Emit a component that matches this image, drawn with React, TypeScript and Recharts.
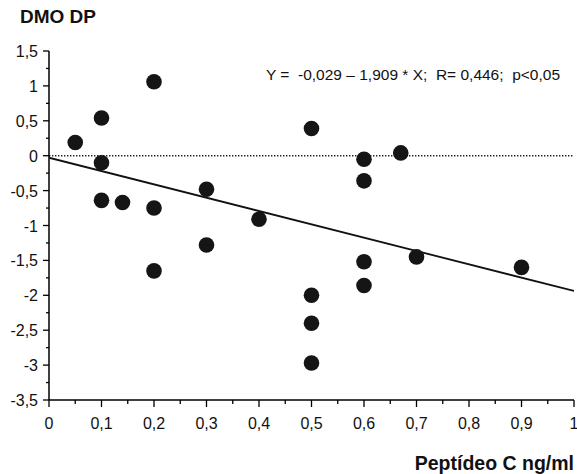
import React from "react";
import {
  ScatterChart,
  Scatter,
  XAxis,
  YAxis,
  ReferenceLine,
} from "recharts";

// Peptídeo C (ng/ml) values
const peptideoC = [
  0.05, 0.1, 0.1, 0.1, 0.14, 0.2, 0.2, 0.2, 0.3, 0.3, 0.4, 0.5, 0.5, 0.5, 0.5,
  0.6, 0.6, 0.6, 0.6, 0.67, 0.7, 0.9,
];
// DMO DP values
const dmoDP = [
  0.19, 0.54, -0.1, -0.64, -0.67, 1.06, -0.75, -1.65, -0.48, -1.28, -0.91,
  0.39, -2.0, -2.4, -2.97, -0.05, -0.36, -1.52, -1.86, 0.04, -1.45, -1.6,
];

// regression from the equation Y = -0,029 - 1,909 * X
const intercept = -0.029;
const slope = -1.909;
const regX = [0, 1];

const xTicks = [
  0, 0.05, 0.1, 0.15, 0.2, 0.25, 0.3, 0.35, 0.4, 0.45, 0.5, 0.55, 0.6, 0.65,
  0.7, 0.75, 0.8, 0.85, 0.9, 0.95, 1,
];
const yTicks = [
  -3.5, -3.25, -3, -2.75, -2.5, -2.25, -2, -1.75, -1.5, -1.25, -1, -0.75, -0.5,
  -0.25, 0, 0.25, 0.5, 0.75, 1, 1.25, 1.5,
];

const points = peptideoC.map((x, i) => ({ x, y: dmoDP[i] }));
const regData = regX.map((x) => ({ x, y: intercept + slope * x }));

const FONT = "'Liberation Sans', Arial, Helvetica, sans-serif";
const fmt = (v: number) => String(Math.round(v * 100) / 100).replace(".", ",");
const isMajorX = (v: number) => Math.abs(v * 10 - Math.round(v * 10)) < 1e-6;
const isMajorY = (v: number) => Math.abs(v * 2 - Math.round(v * 2)) < 1e-6;

const MAJOR = 7;
const MINOR = 4;

const BottomTick = (props: any) => {
  const { x, y, payload } = props;
  const major = isMajorX(payload.value);
  return (
    <g>
      <line x1={x} x2={x} y1={y} y2={y + (major ? MAJOR : MINOR)} stroke="#000" strokeWidth={1.3} />
      {major && (
        <text x={x} y={y + 29} textAnchor="middle" fontSize={16} fill="#111" fontFamily={FONT}>
          {fmt(payload.value)}
        </text>
      )}
    </g>
  );
};

const TopTick = (props: any) => {
  const { x, y, payload } = props;
  const major = isMajorX(payload.value);
  return (
    <line x1={x} x2={x} y1={y} y2={y - (major ? MAJOR : MINOR)} stroke="#000" strokeWidth={1.3} />
  );
};

const LeftTick = (props: any) => {
  const { x, y, payload } = props;
  const major = isMajorY(payload.value);
  return (
    <g>
      <line x1={x} x2={x - (major ? MAJOR - 1 : MINOR - 1)} y1={y} y2={y} stroke="#000" strokeWidth={1.3} />
      {major && (
        <text x={x - 11} y={y + 6} textAnchor="end" fontSize={16} fill="#111" fontFamily={FONT}>
          {fmt(payload.value)}
        </text>
      )}
    </g>
  );
};

const RightTick = (props: any) => {
  const { x, y, payload } = props;
  const major = isMajorY(payload.value);
  return (
    <line x1={x} x2={x + (major ? MAJOR - 1 : MINOR - 1)} y1={y} y2={y} stroke="#000" strokeWidth={1.3} />
  );
};

const Dot = (props: any) => {
  const { cx, cy } = props;
  return <circle cx={cx} cy={cy} r={7.8} fill="#151515" />;
};

export default function App() {
  return (
    <div style={{ position: "absolute", left: 0, top: 0, width: 577, height: 474, background: "#fff" }}>
      <ScatterChart
        width={577}
        height={474}
        margin={{ top: 51, right: 3, bottom: 0, left: 0 }}
        style={{ fontFamily: FONT }}
      >
        <XAxis
          xAxisId={0}
          dataKey="x"
          type="number"
          domain={[0, 1]}
          ticks={xTicks}
          interval={0}
          height={74}
          tickSize={0}
          tickMargin={0}
          tickLine={false}
          axisLine={{ stroke: "#000", strokeWidth: 1.5 }}
          tick={<BottomTick />}
          allowDataOverflow
        />
        <XAxis
          xAxisId="top"
          orientation="top"
          dataKey="x"
          type="number"
          domain={[0, 1]}
          ticks={xTicks}
          interval={0}
          height={0}
          tickSize={0}
          tickMargin={0}
          tickLine={false}
          axisLine={{ stroke: "#000", strokeWidth: 1.5 }}
          tick={<TopTick />}
          allowDataOverflow
        />
        <YAxis
          yAxisId={0}
          dataKey="y"
          type="number"
          domain={[-3.5, 1.5]}
          ticks={yTicks}
          interval={0}
          width={49}
          tickSize={0}
          tickMargin={0}
          tickLine={false}
          axisLine={{ stroke: "#000", strokeWidth: 1.5 }}
          tick={<LeftTick />}
          allowDataOverflow
        />
        <YAxis
          yAxisId="right"
          orientation="right"
          dataKey="y"
          type="number"
          domain={[-3.5, 1.5]}
          ticks={yTicks}
          interval={0}
          width={0}
          tickSize={0}
          tickMargin={0}
          tickLine={false}
          axisLine={{ stroke: "#000", strokeWidth: 1.5 }}
          tick={<RightTick />}
          allowDataOverflow
        />
        <ReferenceLine
          xAxisId={0}
          yAxisId={0}
          y={0}
          stroke="#222"
          strokeWidth={1.4}
          strokeDasharray="1.4 1.6"
        />
        <Scatter
          xAxisId={0}
          yAxisId={0}
          data={regData}
          line={{ stroke: "#111", strokeWidth: 1.8 }}
          shape={() => null}
          isAnimationActive={false}
        />
        <Scatter
          xAxisId={0}
          yAxisId={0}
          data={points}
          shape={<Dot />}
          isAnimationActive={false}
        />
        <text x={20} y={23} fontSize={19} fontWeight="bold" fill="#111" fontFamily={FONT}>
          DMO DP
        </text>
        <text x={574} y={470} textAnchor="end" fontSize={19.5} fontWeight="bold" fill="#111" fontFamily={FONT}>
          Peptídeo C ng/ml
        </text>
        <text x={266} y={80} fontSize={15.5} fill="#111" fontFamily={FONT} xmlSpace="preserve">
          {"Y =  -0,029 – 1,909 * X;  R= 0,446;  p<0,05"}
        </text>
      </ScatterChart>
    </div>
  );
}
